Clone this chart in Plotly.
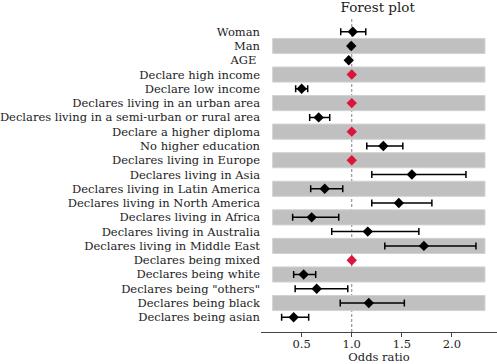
import plotly.graph_objects as go

labels = ["Woman", "Man", "AGE ", "Declare high income", "Declare low income",
          "Declares living in an urban area", "Declares living in a semi-urban or rural area",
          "Declare a higher diploma", "No higher education", "Declares living in Europe",
          "Declares living in Asia", "Declares living in Latin America",
          "Declares living in North America", "Declares living in Africa",
          "Declares living in Australia", "Declares living in Middle East",
          "Declares being mixed", "Declares being white", 'Declares being "others"',
          "Declares being black", "Declares being asian"]
odds = [1.01, 0.995, 0.97, 1.0, 0.50, 1.0, 0.67, 1.0, 1.315, 1.0, 1.60, 0.73, 1.47,
        0.60, 1.16, 1.72, 1.0, 0.52, 0.65, 1.17, 0.42]
ci_low = [0.89, 0.985, 0.965, 1.0, 0.44, 1.0, 0.58, 1.0, 1.15, 1.0, 1.20, 0.59, 1.20,
          0.41, 0.80, 1.33, 1.0, 0.42, 0.435, 0.885, 0.30]
ci_high = [1.14, 1.005, 0.975, 1.0, 0.56, 1.0, 0.78, 1.0, 1.51, 1.0, 2.14, 0.91, 1.80,
           0.87, 1.67, 2.24, 1.0, 0.64, 0.96, 1.525, 0.57]
is_reference = [False, False, False, True, False, True, False, True, False, True, False,
                False, False, False, False, False, True, False, False, False, False]
x_ticks = [0.5, 1.0, 1.5, 2.0]

FONT = "DejaVu Serif"
n = len(labels)

est_idx = [i for i in range(n) if not is_reference[i]]
ref_idx = [i for i in range(n) if is_reference[i]]

fig = go.Figure()

# alternating grey bands
for i in range(1, n, 2):
    fig.add_shape(type="rect", xref="x", yref="y", x0=0.21, x1=2.33,
                  y0=i - 0.53, y1=i + 0.53, fillcolor="#c0c0c0",
                  line=dict(color="#d2d2d2", width=1), layer="below")

# reference line
fig.add_shape(type="line", xref="x", yref="paper", x0=1.0, x1=1.0, y0=0, y1=1,
              line=dict(color="#808080", width=1, dash="3px,2px"), layer="below")

fig.add_trace(go.Scatter(
    x=[odds[i] for i in est_idx],
    y=[labels[i] for i in est_idx],
    mode="markers",
    marker=dict(symbol="diamond", size=8, color="black"),
    error_x=dict(type="data", symmetric=False,
                 array=[ci_high[i] - odds[i] for i in est_idx],
                 arrayminus=[odds[i] - ci_low[i] for i in est_idx],
                 color="black", thickness=1.5, width=3.5),
    showlegend=False,
))
fig.add_trace(go.Scatter(
    x=[odds[i] for i in ref_idx],
    y=[labels[i] for i in ref_idx],
    mode="markers",
    marker=dict(symbol="diamond", size=8, color="#dc143c"),
    showlegend=False,
))

fig.update_layout(
    width=497, height=364,
    margin=dict(l=258, r=0, t=17, b=32),
    paper_bgcolor="white", plot_bgcolor="white",
    font=dict(family=FONT, size=11.5, color="#222222"),
    title=dict(text="Forest plot", x=0.76, xanchor="center", y=0.992, yanchor="top",
               font=dict(family=FONT, size=13.5, color="#222222")),
)
fig.update_xaxes(
    range=[0.094, 2.45], tickvals=x_ticks, ticktext=[f"{v:.1f}" for v in x_ticks],
    showgrid=False, zeroline=False, showline=True, linecolor="#444444", linewidth=1,
    ticks="outside", ticklen=4, tickcolor="#444444", ticklabelstandoff=-3,
    tickfont=dict(family=FONT, size=11.5, color="#222222"),
    title=dict(text="Odds ratio", font=dict(family=FONT, size=11.5), standoff=5),
)
fig.update_yaxes(
    type="category", categoryorder="array", categoryarray=labels,
    range=[n - 1 + 1.03, -1.03],
    showgrid=False, zeroline=False, showline=False, ticks="",
    tickfont=dict(family=FONT, size=11.5, color="#222222"),
)

fig.write_html("out.html")
